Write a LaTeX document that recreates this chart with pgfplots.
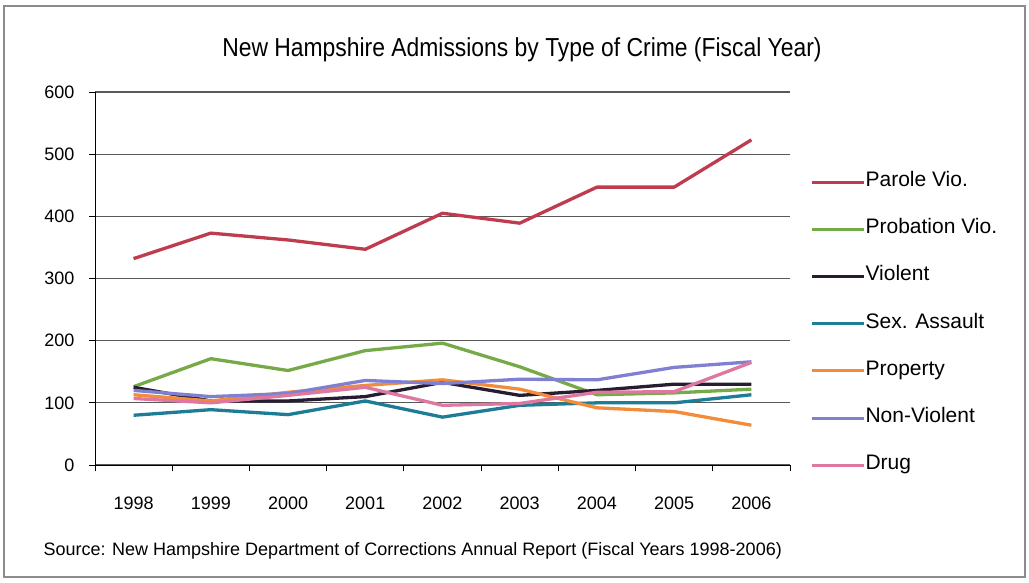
\documentclass[border=0pt]{standalone}
\usepackage{pgfplots}
\pgfplotsset{compat=1.18}
\usepackage{fontspec}
\setmainfont{Liberation Sans}
\newfontfamily\titfont[FakeStretch=0.88]{Liberation Sans}
\definecolor{cParole}{RGB}{190,60,78}
\definecolor{cProb}{RGB}{118,170,72}
\definecolor{cViol}{RGB}{40,28,48}
\definecolor{cSex}{RGB}{30,125,150}
\definecolor{cProp}{RGB}{242,140,58}
\definecolor{cNonV}{RGB}{128,128,210}
\definecolor{cDrug}{RGB}{222,120,160}
\begin{document}
\begin{tikzpicture}
\path[use as bounding box] (0pt,0pt) rectangle (1029pt,582pt);
\draw[black!45, line width=2pt] (4pt,5pt) rectangle (1025pt,576pt);
\node at (522pt,532pt) {\titfont\fontsize{26}{30}\selectfont New Hampshire Admissions by Type of Crime (Fiscal Year)};
\node[anchor=west] at (40pt,31pt) {\fontsize{18}{21}\selectfont Source: New Hampshire Department of Corrections Annual Report (Fiscal Years 1998-2006)};
\begin{axis}[
  at={(95pt,117pt)}, anchor=south west,
  scale only axis, width=695pt, height=373pt,
  xmin=1997.5, xmax=2006.5, ymin=0, ymax=600,
  axis lines*=left,
  axis line style={black, line width=1pt},
  xtick={1998,...,2006},
  minor xtick={1997.5,1998.5,...,2006.5},
  ytick={0,100,...,600},
  major x tick style={draw=none},
  minor x tick style={black, line width=0.8pt},
  major y tick style={black, line width=0.8pt},
  tick align=outside,
  major tick length=6pt, minor tick length=6pt,
  ymajorgrids,
  major y grid style={black!65, line width=1.2pt},
  /pgf/number format/assume math mode=true,
  /pgf/number format/1000 sep={},
  tick label style={font=\fontsize{18}{21}\selectfont},
  xticklabel style={yshift=-22pt},
  yticklabel style={xshift=-11pt},
  every axis plot/.append style={line width=3.3pt, line join=round},
  legend style={at={(1.025,0.79)}, anchor=north west, draw=none, fill=none,
    font=\fontsize{21}{24}\selectfont, row sep=28.2pt,
    nodes={inner sep=0pt, text height=14pt, text depth=5pt}},
  legend cell align=left,
  legend image code/.code={\draw[#1, line width=3pt] (0pt,0pt) -- (52pt,0pt);},
]
\addplot[cParole] coordinates {(1998,332) (1999,373) (2000,362) (2001,347) (2002,405) (2003,389) (2004,447) (2005,447) (2006,523)};
\addlegendentry{Parole Vio.}
\addplot[cProb] coordinates {(1998,126) (1999,171) (2000,152) (2001,184) (2002,196) (2003,158) (2004,113) (2005,116) (2006,122)};
\addlegendentry{Probation Vio.}
\addplot[cViol] coordinates {(1998,125) (1999,103) (2000,103) (2001,110) (2002,133) (2003,112) (2004,120) (2005,130) (2006,130)};
\addlegendentry{Violent}
\addplot[cSex] coordinates {(1998,80) (1999,89) (2000,81) (2001,103) (2002,77) (2003,96) (2004,100) (2005,100) (2006,113)};
\addlegendentry{Sex. Assault}
\addplot[cProp] coordinates {(1998,113) (1999,103) (2000,117) (2001,128) (2002,137) (2003,122) (2004,92) (2005,86) (2006,64)};
\addlegendentry{Property}
\addplot[cNonV] coordinates {(1998,120) (1999,110) (2000,115) (2001,136) (2002,131) (2003,138) (2004,137) (2005,157) (2006,166)};
\addlegendentry{Non-Violent}
\addplot[cDrug] coordinates {(1998,107) (1999,100) (2000,112) (2001,125) (2002,96) (2003,99) (2004,117) (2005,118) (2006,165)};
\addlegendentry{Drug}
\end{axis}
\end{tikzpicture}
\end{document}
